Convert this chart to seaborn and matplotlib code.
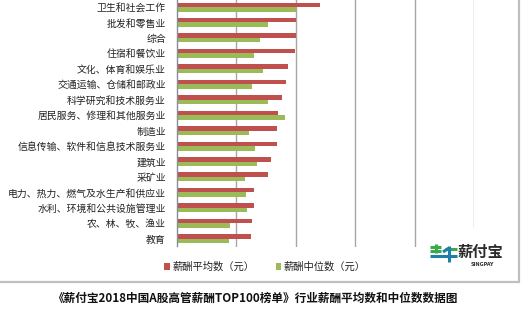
import pandas as pd
import matplotlib.pyplot as plt
import seaborn as sns
from matplotlib.lines import Line2D

# data (unit = gridline step x100)
industries = ["卫生和社会工作", "批发和零售业", "综合", "住宿和餐饮业", "文化、体育和娱乐业",
              "交通运输、仓储和邮政业", "科学研究和技术服务业", "居民服务、修理和其他服务业",
              "制造业", "信息传输、软件和信息技术服务业", "建筑业", "采矿业",
              "电力、热力、燃气及水生产和供应业", "水利、环境和公共设施管理业",
              "农、林、牧、渔业", "教育"]
mean_pay = [241, 200, 200, 198, 187, 184, 176, 170, 168, 168, 158, 154, 130, 130, 126, 125]
median_pay = [200, 154, 140, 130, 144, 126, 154, 182, 122, 132, 134, 114, 116, 118, 89, 88]
series = ["薪酬平均数（元）", "薪酬中位数（元）"]
colors = ["#C0504D", "#9BBB59"]
title = "《薪付宝2018中国A股高管薪酬TOP100榜单》行业薪酬平均数和中位数数据图"

df = pd.DataFrame({"行业": industries * 2,
                   "值": mean_pay + median_pay,
                   "系列": [series[0]] * len(industries) + [series[1]] * len(industries)})

sns.set_style("white")
plt.rcParams['font.family'] = ['Noto Sans CJK SC', 'DejaVu Sans']

W, H = 521, 312
fig = plt.figure(figsize=(W / 100, H / 100), dpi=100)
ax = fig.add_axes([177 / W, 1 - 246.5 / H, 297 / W, 247.2 / H])

sns.barplot(data=df, y="行业", x="值", hue="系列", hue_order=series, palette=colors,
            orient="h", width=0.58, ax=ax, saturation=1, linewidth=0)

ax.set_xlim(0, 500)
ax.set_xticks([100, 200, 300, 400])
ax.grid(axis="x", color="#A6A6A6", linewidth=1)
ax.axvline(500, ymin=0.077, color="#A6A6A6", linewidth=1)
ax.set_axisbelow(True)
ax.tick_params(axis="x", length=0, labelbottom=False)
ax.set_xlabel("")
ax.set_ylabel("")
for s in ["top", "right", "bottom"]:
    ax.spines[s].set_visible(False)
ax.spines["left"].set_color("#868E96")
ax.spines["left"].set_linewidth(1)
ax.set_yticks(range(len(industries)))
ax.set_yticks([i + 0.5 for i in range(-1, len(industries))], minor=True)
ax.tick_params(axis="y", which="major", length=0, pad=8, labelsize=7.1, labelcolor="#222222")
ax.tick_params(axis="y", which="minor", length=3, color="#868E96", width=1)

sns.move_legend(ax, "center left", bbox_to_anchor=(164 / W, 1 - 267 / H),
                bbox_transform=fig.transFigure, ncol=2, frameon=False, title=None,
                fontsize=7.4, handlelength=0.55, handleheight=0.55, handletextpad=0.25,
                columnspacing=2.1, borderpad=0, borderaxespad=0)
for t in ax.get_legend().get_texts():
    t.set_color("#222222")


def px(x, y):
    return x / W, 1 - y / H


# outer frame (bottom and right edge of the chart box)
for (x0, y0, x1, y1) in [(0, 282, 519, 282), (519, 282, 519, 0)]:
    (a, b), (c, d) = px(x0, y0), px(x1, y1)
    fig.add_artist(Line2D([a, c], [b, d], transform=fig.transFigure,
                          color="#BFBFBF", linewidth=1.6))

# logo
for (x0, y0, x1, y1, c) in [(430, 247, 441, 247, "#3BAA4B"), (430, 251, 441, 251, "#3BAA4B"),
                            (436, 244, 436, 253, "#3BAA4B"), (445, 249, 457, 249, "#3BAA4B"),
                            (430, 256, 457, 256, "#1E7FA8"), (449, 246, 449, 262, "#1E7FA8"),
                            (443, 252, 449, 248, "#1E7FA8")]:
    (a, b), (c2, d) = px(x0, y0), px(x1, y1)
    fig.add_artist(Line2D([a, c2], [b, d], transform=fig.transFigure, color=c,
                          linewidth=2.2, solid_capstyle="butt"))
fig.text(*px(458, 252), "薪付宝", fontsize=11, fontweight="bold", color="#2B2B2B",
         ha="left", va="center")
fig.text(*px(482, 264), "SINGPAY", fontsize=3.5, fontweight="bold", color="#333333",
         ha="center", va="center", family="DejaVu Sans")

fig.text(256 / W, 1 - 298 / H, title, fontsize=8.4, fontweight="bold", color="#111111",
         ha="center", va="center")

fig.savefig("out.png", dpi=100)
